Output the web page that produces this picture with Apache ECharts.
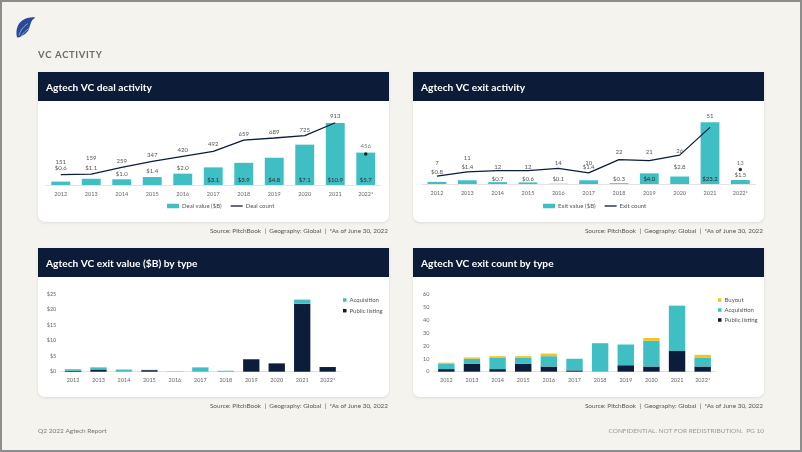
<!DOCTYPE html>
<html>
<head>
<meta charset="utf-8">
<script src="https://cdn.jsdelivr.net/npm/echarts@6/dist/echarts.min.js"></script>
<style>
html,body{margin:0;padding:0;background:#f5f3ee;}
#c{width:802px;height:452px;}
</style>
</head>
<body>
<div id="c"></div>
<script>
// ---------- DATA ----------
const years = ['2012','2013','2014','2015','2016','2017','2018','2019','2020','2021','2022*'];
const dealValue = [0.6,1.1,1.0,1.4,2.0,3.1,3.9,4.8,7.1,10.9,5.7];
const dealCount = [151,159,259,347,420,492,659,689,725,913,456];
const exitValue = [0.8,1.4,0.7,0.6,0.1,1.4,0.3,4.0,2.8,23.2,1.5];
const exitCount = [7,11,12,12,14,10,22,21,26,51,13];
const exitValuePublic = [0.3,0.7,0,0.5,0,0,0,4.0,2.7,21.9,1.5];
const exitValueAcq =    [0.5,0.7,0.7,0.1,0.1,1.4,0.3,0,0.1,1.3,0];
const exitCountPublic = [2,6,2,6,4,1,0,5,4,16,4];
const exitCountAcq =    [4,4,9,5,8,9,22,16,20,35,7];
const exitCountBuyout = [1,1,1,1,2,0,0,0,2,0,2];
const valueTicks = [0,5,10,15,20,25];
const countTicks = [0,10,20,30,40,50,60];

// ---------- label layout (px lifts, not data) ----------
const dealValueLift = [13.6,10.8,5.6,6,5.9,0,0,0,0,0,0];
const dealCountLift = [12.7,17,6.6,7,7,7.4,6.7,6.3,6.3,6.7,8];
const exitValueLift = [10.6,14,2.8,3,4.7,13.3,4.2,0,10.2,0,5.4];
const exitCountLift = [14,14.2,4.4,4.4,6.2,10.6,7.6,8.8,4.9,11.3,7];

// ---------- STYLE ----------
const TEAL = '#3fbfc4', NAVY = '#0c1d3b', YELLOW = '#f4c51a', HEAD = '#0b1b38';
const FONT = 'Lato';
const LBL = {fontFamily: FONT, fontSize: 6, color: '#555'};
const LINE_ICON = 'path://M0,0H120V13H0Z';

const last = years.length - 1;
function barData(values, insideMin, lifts) {
  return values.map((v, i) => ({
    value: v,
    label: v >= insideMin
      ? {position: 'insideBottom', distance: 2, color: '#2a2a2a'}
      : {position: 'top', distance: Math.max(0, lifts[i] - 3.5)}
  }));
}
function lineData(values, lifts) {
  return values.map((v, i) => i === last ? '-' : ({value: v, label: {distance: Math.max(0, lifts[i] - 3.5)}}));
}
function dotData(values, lifts) {
  return values.map((v, i) => i === last ? ({value: v, label: {distance: Math.max(0, lifts[i] - 5.25)}}) : '-');
}

const xAxisBase = (gi) => ({
  type: 'category', gridIndex: gi, data: years,
  axisTick: {show: false},
  axisLine: {lineStyle: {color: '#dcdcdc', width: 0.8}},
  axisLabel: {fontFamily: FONT, fontSize: 5.5, color: '#666', margin: 6, interval: 0}
});

const grids = [
  {left: 45.5, width: 335.5, top: 116.8, height: 68.2},
  {left: 421.8, width: 333.7, top: 117.4, height: 66.6},
  {left: 60.3, width: 280.1, top: 294, height: 77.7},
  {left: 433.5, width: 282, top: 294, height: 77.7}
];

const cards = [
  {x: 38, y: 72, w: 351, hh: 29, h: 150, title: 'Agtech VC deal activity'},
  {x: 413, y: 72, w: 351, hh: 29, h: 150, title: 'Agtech VC exit activity'},
  {x: 38, y: 248, w: 351, hh: 29, h: 149, title: 'Agtech VC exit value ($B) by type'},
  {x: 413, y: 248, w: 351, hh: 29, h: 149, title: 'Agtech VC exit count by type'}
];
const sectionTitle = ['V','C',' ','A','C','T','I','V','I','T','Y'].join('\u200A');
const graphic = [
  {type: 'rect', z: -10, shape: {x: 1, y: 1, width: 800, height: 450}, style: {fill: '#f5f3ee', stroke: '#8d8d8d', lineWidth: 2}},
  {type: 'polygon', z: -5, shape: {points: [[17.5,37.5],[16.5,31],[18.5,24.5],[23,20],[29,17.8],[35,17.5],[32,20.5],[30,25.5],[28,31],[23.5,35]], smooth: 0.3}, style: {fill: '#2a4a98'}},
  {type: 'polyline', z: -4, shape: {points: [[19,35.5],[22,29],[28,23.5]], smooth: 0.5}, style: {stroke: '#b9c9ec', lineWidth: 0.7, fill: null}},
  {type: 'polyline', z: -4, shape: {points: [[21,36.5],[25,31.5],[30,28]], smooth: 0.5}, style: {stroke: '#b9c9ec', lineWidth: 0.7, fill: null}},
  {type: 'text', z: -5, x: 38, y: 50, style: {text: sectionTitle, fill: '#6e6b66', font: '700 9.5px Lato'}},
  {type: 'text', z: -5, x: 38, y: 427.5, style: {text: 'Q2 2022 Agtech Report', fill: '#7a7772', font: '6.5px Lato'}},
  {type: 'text', z: -5, x: 764, y: 427.5, style: {text: 'CONFIDENTIAL. NOT FOR REDISTRIBUTION.  PG 10', fill: '#9a9792', font: '6.5px Lato', textAlign: 'right'}}
];
cards.forEach(c => {
  graphic.push({type: 'rect', z: -3, shape: {x: c.x, y: c.y, width: c.w, height: c.h, r: [0,0,7,7]}, style: {fill: '#ffffff', shadowBlur: 3, shadowColor: 'rgba(0,0,0,0.10)', shadowOffsetY: 1}});
  graphic.push({type: 'rect', z: -2, shape: {x: c.x, y: c.y, width: c.w, height: c.hh}, style: {fill: HEAD}});
  graphic.push({type: 'text', z: -1, x: c.x + 8, y: c.y + 15.6, style: {text: c.title, fill: '#ffffff', font: '700 10.2px Lato', textVerticalAlign: 'middle', verticalAlign: 'middle'}});
  graphic.push({type: 'text', z: -1, x: c.x + c.w - 1, y: c.y + c.h + 6, style: {text: 'Source: PitchBook  |  Geography: Global  |  *As of June 30, 2022', fill: '#555', font: '6.4px Lato', textAlign: 'right'}});
});

const legText = {fontFamily: FONT, fontSize: 6, color: '#555', padding: [0, 0, 0, -2]};
const option = {
  animation: false,
  backgroundColor: 'transparent',
  textStyle: {fontFamily: FONT},
  graphic: {elements: graphic},
  grid: grids,
  xAxis: [xAxisBase(0), xAxisBase(1), xAxisBase(2), xAxisBase(3)],
  yAxis: [
    {gridIndex: 0, min: 0, max: 12, show: false},
    {gridIndex: 0, min: 0, max: 1000, show: false},
    {gridIndex: 1, min: 0, max: 25, show: false},
    {gridIndex: 1, min: 0, max: 60, show: false},
    {gridIndex: 2, min: valueTicks[0], max: valueTicks[valueTicks.length-1], interval: 5,
     splitLine: {show: false}, axisLine: {show: false}, axisTick: {show: false},
     axisLabel: {fontFamily: FONT, fontSize: 5.5, color: '#666', margin: 4, formatter: v => '$' + v}},
    {gridIndex: 3, min: countTicks[0], max: countTicks[countTicks.length-1], interval: 10,
     splitLine: {show: false}, axisLine: {show: false}, axisTick: {show: false},
     axisLabel: {fontFamily: FONT, fontSize: 5.5, color: '#666', margin: 4}}
  ],
  legend: [
    {left: 167, top: 203, padding: 0, itemWidth: 12, itemHeight: 4.5, itemGap: 9, textStyle: legText,
     data: [{name: 'Deal value ($B)', icon: 'rect'}, {name: 'Deal count', icon: LINE_ICON}]},
    {left: 543, top: 203, padding: 0, itemWidth: 12, itemHeight: 4.5, itemGap: 9, textStyle: legText,
     data: [{name: 'Exit value ($B)', icon: 'rect'}, {name: 'Exit count', icon: LINE_ICON}]},
    {left: 343, top: 297, padding: 0, orient: 'vertical', itemWidth: 3.5, itemHeight: 3.5, itemGap: 4.7, icon: 'rect', textStyle: legText,
     data: ['Acquisition ', 'Public listing ']},
    {left: 718, top: 297, padding: 0, orient: 'vertical', itemWidth: 3.5, itemHeight: 3.5, itemGap: 4, icon: 'rect', textStyle: legText,
     data: ['Buyout', 'Acquisition', 'Public listing']}
  ],
  series: [
    {name: 'Deal value ($B)', type: 'bar', xAxisIndex: 0, yAxisIndex: 0, barWidth: '62%', itemStyle: {color: TEAL},
     label: Object.assign({show: true, formatter: p => '$' + Number(p.value).toFixed(1)}, LBL), data: barData(dealValue, 3, dealValueLift)},
    {name: 'Deal count', type: 'line', xAxisIndex: 0, yAxisIndex: 1, symbol: 'circle', symbolSize: 0.1, lineStyle: {color: NAVY, width: 1.3}, itemStyle: {color: NAVY},
     label: Object.assign({show: true, position: 'top'}, LBL), data: lineData(dealCount, dealCountLift), z: 3},
    {name: 'dot1', type: 'scatter', xAxisIndex: 0, yAxisIndex: 1, symbolSize: 3.5, itemStyle: {color: '#000'},
     label: Object.assign({show: true, position: 'top'}, LBL), data: dotData(dealCount, dealCountLift), z: 4},
    {name: 'Exit value ($B)', type: 'bar', xAxisIndex: 1, yAxisIndex: 2, barWidth: '62%', itemStyle: {color: TEAL},
     label: Object.assign({show: true, formatter: p => '$' + Number(p.value).toFixed(1)}, LBL), data: barData(exitValue, 4, exitValueLift)},
    {name: 'Exit count', type: 'line', xAxisIndex: 1, yAxisIndex: 3, symbol: 'circle', symbolSize: 0.1, lineStyle: {color: NAVY, width: 1.3}, itemStyle: {color: NAVY},
     label: Object.assign({show: true, position: 'top'}, LBL), data: lineData(exitCount, exitCountLift), z: 3},
    {name: 'dot2', type: 'scatter', xAxisIndex: 1, yAxisIndex: 3, symbolSize: 3.5, itemStyle: {color: '#000'},
     label: Object.assign({show: true, position: 'top'}, LBL), data: dotData(exitCount, exitCountLift), z: 4},
    {name: 'Public listing ', type: 'bar', stack: 'v', xAxisIndex: 2, yAxisIndex: 4, barWidth: '64%', itemStyle: {color: NAVY}, data: exitValuePublic},
    {name: 'Acquisition ', type: 'bar', stack: 'v', xAxisIndex: 2, yAxisIndex: 4, barWidth: '64%', itemStyle: {color: TEAL}, data: exitValueAcq},
    {name: 'Public listing', type: 'bar', stack: 'c', xAxisIndex: 3, yAxisIndex: 5, barWidth: '64%', itemStyle: {color: NAVY}, data: exitCountPublic},
    {name: 'Acquisition', type: 'bar', stack: 'c', xAxisIndex: 3, yAxisIndex: 5, barWidth: '64%', itemStyle: {color: TEAL}, data: exitCountAcq},
    {name: 'Buyout', type: 'bar', stack: 'c', xAxisIndex: 3, yAxisIndex: 5, barWidth: '64%', itemStyle: {color: YELLOW}, data: exitCountBuyout}
  ]
};
const chart = echarts.init(document.getElementById('c'), null, {renderer: 'canvas'});
chart.setOption(option);
</script>
</body>
</html>
